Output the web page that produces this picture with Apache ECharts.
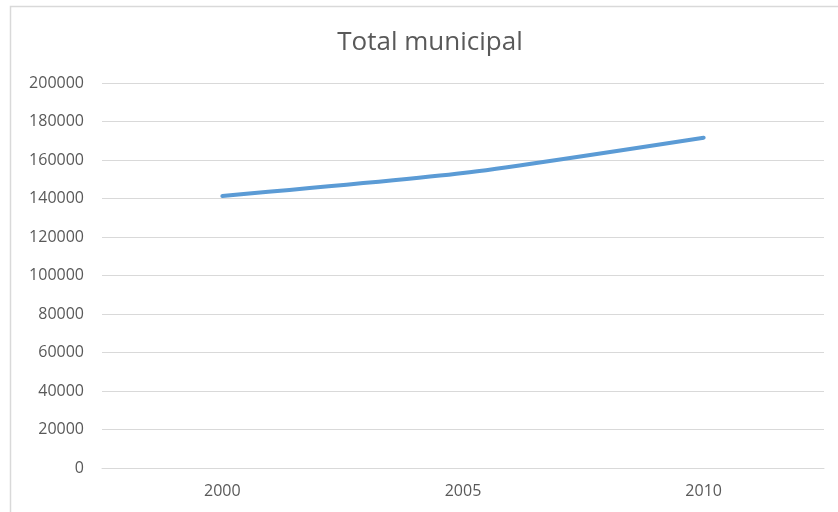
<!DOCTYPE html>
<html>
<head>
<meta charset="utf-8">
<script src="https://cdn.jsdelivr.net/npm/echarts@6/dist/echarts.min.js"></script>
<style>
  html, body { margin: 0; padding: 0; background: #fff; }
  #chart { width: 838px; height: 512px; }
</style>
</head>
<body>
<div id="chart"></div>
<script>
// Municipal population totals by census year
const years = ['2000', '2005', '2010'];
const totals = [141300, 153200, 171600];
const yTicks = { min: 0, max: 200000, interval: 20000 };

const textColor = '#595959';
const gridColor = '#D9D9D9';
const font = '"Open Sans", "Noto Sans", sans-serif';

const chart = echarts.init(document.getElementById('chart'));
chart.setOption({
  backgroundColor: '#ffffff',
  animation: false,
  graphic: [{
    type: 'rect',
    shape: { x: 10.5, y: 6.5, width: 840, height: 520 },
    style: { fill: 'none', stroke: gridColor, lineWidth: 1.5 },
    silent: true
  }],
  title: {
    text: 'Total municipal',
    left: 425,
    top: 25,
    textAlign: 'center',
    textStyle: { color: textColor, fontFamily: font, fontSize: 26, fontWeight: 'normal' }
  },
  grid: { left: 102, right: 14, top: 83, bottom: 44, containLabel: false },
  xAxis: {
    type: 'category',
    data: years,
    boundaryGap: true,
    axisLine: { show: true, lineStyle: { color: gridColor, width: 1 } },
    axisTick: { show: false },
    axisLabel: { color: textColor, fontFamily: font, fontSize: 16, margin: 15 }
  },
  yAxis: {
    type: 'value',
    min: yTicks.min,
    max: yTicks.max,
    interval: yTicks.interval,
    axisLine: { show: false },
    axisTick: { show: false },
    splitLine: { lineStyle: { color: gridColor, width: 1 } },
    axisLabel: {
      color: textColor, fontFamily: font, fontSize: 16, margin: 18,
      formatter: (v) => String(v)
    }
  },
  series: [{
    type: 'line',
    data: totals,
    smooth: 0.2,
    symbol: 'none',
    lineStyle: { color: '#5B9BD5', width: 4, cap: 'round' }
  }]
});
</script>
</body>
</html>
